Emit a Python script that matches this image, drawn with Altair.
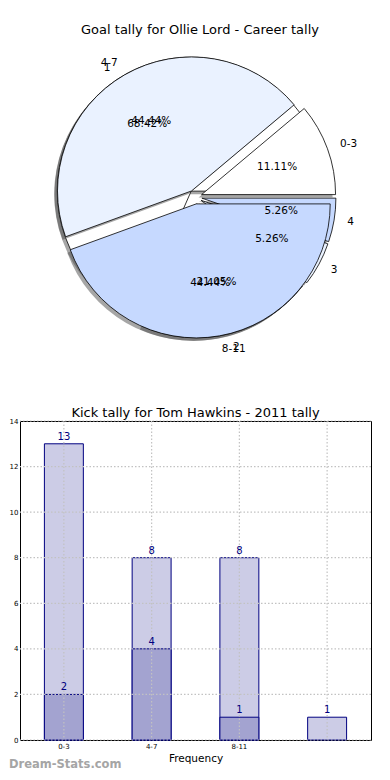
import altair as alt
import pandas as pd

FONT = "DejaVu Sans"

# ---- data: pie (Goal tally for Ollie Lord - Career tally)
outer_labels = ["0-3", "4-7", "8-11"]
outer_values = [1, 4, 4]            # 11.11%, 44.44%, 44.44%
outer_colors = ["#FFFFFF", "#EAF2FF", "#C6D9FF"]

inner_labels = ["1", "2", "3", "4"]
inner_values = [13, 4, 1, 1]        # 68.42%, 21.05%, 5.26%, 5.26%
inner_colors = ["#FFFFFF", "#EAF2FF", "#EAF2FF", "#C6D9FF"]

# ---- data: bars (Kick tally for Tom Hawkins - 2011 tally)
bar_categories = ["0-3", "4-7", "8-11", "12-15"]
tick_labels = ["0-3", "4-7", "8-11", ""]
total_counts = [13, 8, 8, 1]
part_counts = [2, 4, 1, 0]
y_ticks = [0, 2, 4, 6, 8, 10, 12, 14]
watermark = ["Dream-Stats.com"]

# ---- layout / style constants
PIE_W, PIE_H = 360, 354
CX, CY = 175, 156
R = 134
EXPLODE = 7
NAVY = "#000080"
GRID_STYLE = dict(strokeDash=[1.5, 2], color="#c2c2c2", strokeWidth=1.2)

pie_df = pd.DataFrame({
    "pie": ["inner"] * len(inner_labels) + ["outer"] * len(outer_labels),
    "idx": list(range(len(inner_labels))) + list(range(len(outer_labels))),
    "label": inner_labels + outer_labels,
    "value": inner_values + outer_values,
    "color": inner_colors + outer_colors,
})

base = (
    alt.Chart(pie_df)
    .transform_joinaggregate(total="sum(value)", groupby=["pie"])
    .transform_window(cum="sum(value)", groupby=["pie"],
                      sort=[alt.SortField(field="idx", order="ascending")],
                      frame=[None, 0])
    .transform_calculate(a0="2*PI*(datum.cum - datum.value)/datum.total")
    .transform_calculate(a1="2*PI*datum.cum/datum.total")
    .transform_calculate(t0="PI/2 - datum.a0")
    .transform_calculate(t1="PI/2 - datum.a1")
    .transform_calculate(mid="(datum.a0 + datum.a1)/2")
    .transform_calculate(cx=f"{CX} + {EXPLODE}*cos(datum.mid)")
    .transform_calculate(cy=f"{CY} - {EXPLODE}*sin(datum.mid)")
    .transform_calculate(sx="datum.cx - 3")
    .transform_calculate(sy="datum.cy + 3")
    .transform_calculate(lx=f"datum.cx + {1.1 * R}*cos(datum.mid)")
    .transform_calculate(ly=f"datum.cy - {1.1 * R}*sin(datum.mid)")
    .transform_calculate(px=f"datum.cx + {0.6 * R}*cos(datum.mid)")
    .transform_calculate(py=f"datum.cy - {0.6 * R}*sin(datum.mid)")
    .transform_calculate(pct="format(100*datum.value/datum.total, '.2f') + '%'")
)


def px_x(f):
    return alt.X(f"{f}:Q", scale=None, axis=None, stack=None)


def px_y(f):
    return alt.Y(f"{f}:Q", scale=None, axis=None, stack=None)


def wedges(name):
    return (
        base.transform_filter(alt.datum.pie == name)
        .mark_arc(radius=R, stroke="black", strokeWidth=0.8)
        .encode(
            x=px_x("cx"), y=px_y("cy"),
            theta=alt.Theta("t0:Q", scale=None, stack=None),
            theta2="t1:Q",
            color=alt.Color("color:N", scale=None),
        )
    )


def shadows(name):
    return (
        base.transform_filter(alt.datum.pie == name)
        .mark_arc(radius=R, fill="#4d4d4d", fillOpacity=0.5, strokeWidth=0)
        .encode(
            x=px_x("sx"), y=px_y("sy"),
            theta=alt.Theta("t0:Q", scale=None, stack=None),
            theta2="t1:Q",
        )
    )


labels_left = (
    base.transform_filter("cos(datum.mid) > 0")
    .mark_text(align="left", baseline="middle", fontSize=10.5, font=FONT, color="black")
    .encode(x=px_x("lx"), y=px_y("ly"), text="label:N")
)
labels_right = (
    base.transform_filter("cos(datum.mid) <= 0")
    .mark_text(align="right", baseline="middle", fontSize=10.5, font=FONT, color="black")
    .encode(x=px_x("lx"), y=px_y("ly"), text="label:N")
)
pct_labels = (
    base.mark_text(align="center", baseline="middle", fontSize=10.5, font=FONT, color="black")
    .encode(x=px_x("px"), y=px_y("py"), text="pct:N")
)

pie = alt.layer(
    shadows("inner"), wedges("inner"),
    shadows("outer"), wedges("outer"),
    labels_left, labels_right, pct_labels,
).properties(
    width=PIE_W, height=PIE_H,
    title=alt.TitleParams("Goal tally for Ollie Lord - Career tally", offset=4),
)

# ---- bar chart
bar_df = pd.DataFrame({"cat": bar_categories, "total": total_counts, "part": part_counts})
ytick_df = pd.DataFrame({"v": y_ticks})

cats_js = "[" + ",".join(f"'{c}'" for c in bar_categories) + "]"
ticks_js = "[" + ",".join(f"'{t}'" for t in tick_labels) + "]"

x_axis = alt.Axis(
    title="Frequency", labelExpr=f"{ticks_js}[indexof({cats_js}, datum.value)]",
    labelAngle=0, labelFontSize=7, labelFont=FONT, labelColor="black",
    labelPadding=2, ticks=False, domain=False, grid=False,
    titleFontSize=10.5, titleFont=FONT, titleFontWeight="normal",
    titleColor="black", titlePadding=4,
)
y_axis = alt.Axis(
    title=None, values=y_ticks, labelFontSize=7, labelFont=FONT,
    labelColor="black", labelPadding=2, ticks=False, domain=False, grid=False,
)
x_scale = alt.Scale(paddingInner=0.556, paddingOuter=0.278)
y_scale = alt.Scale(domain=[0, 14], nice=False)


def xe():
    return alt.X("cat:N", sort=bar_categories, scale=x_scale, axis=x_axis)


light_bars = alt.Chart(bar_df).mark_bar(
    fill="#CCCCE6", stroke=NAVY, strokeWidth=1
).encode(x=xe(), y=alt.Y("total:Q", scale=y_scale, axis=y_axis))

dark_bars = alt.Chart(bar_df).transform_filter(alt.datum.part > 0).mark_bar(
    fill="#A3A3D0", stroke=NAVY, strokeWidth=1
).encode(x=xe(), y=alt.Y("part:Q", scale=y_scale, axis=y_axis))

vgrid = alt.Chart(bar_df).mark_rule(**GRID_STYLE).encode(x=xe())
hgrid = alt.Chart(ytick_df).mark_rule(**GRID_STYLE).encode(
    y=alt.Y("v:Q", scale=y_scale, axis=y_axis)
)

light_text = alt.Chart(bar_df).mark_text(
    dy=-2, baseline="bottom", color=NAVY, fontSize=10, font=FONT
).encode(x=xe(), y=alt.Y("total:Q", scale=y_scale, axis=y_axis), text="total:Q")

dark_text = alt.Chart(bar_df).transform_filter(alt.datum.part > 0).mark_text(
    dy=-2, baseline="bottom", color=NAVY, fontSize=10, font=FONT
).encode(x=xe(), y=alt.Y("part:Q", scale=y_scale, axis=y_axis), text="part:Q")

mark_wm = alt.Chart(pd.DataFrame({"t": watermark})).mark_text(
    align="left", baseline="middle", fontSize=11.5, fontWeight="bold",
    font=FONT, color="#A5A5A5"
).encode(x=alt.value(-11), y=alt.value(344), text="t:N")

bars = alt.layer(
    light_bars, dark_bars, vgrid, hgrid, light_text, dark_text, mark_wm
).properties(
    width=351, height=319,
    title=alt.TitleParams("Kick tally for Tom Hawkins - 2011 tally", offset=-3),
    view=alt.ViewBackground(stroke="black", strokeWidth=1),
)

chart = (
    alt.vconcat(pie, bars, spacing=10)
    .properties(padding={"left": 0, "top": 15, "right": 0, "bottom": 0})
    .configure_view(stroke="transparent")
    .configure_title(font=FONT, fontSize=13, fontWeight="normal", color="black", anchor="middle")
)

chart.save("out.html", embed_options={"renderer": "svg", "actions": False})
